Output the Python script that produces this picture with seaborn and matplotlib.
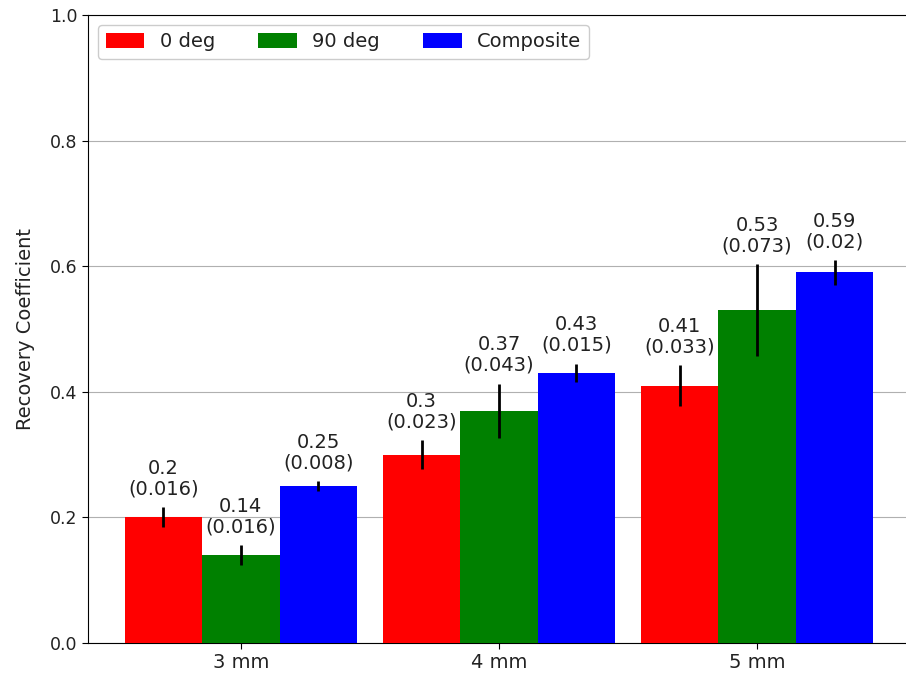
import matplotlib
matplotlib.use("Agg")
import matplotlib.pyplot as plt
import seaborn as sns
import pandas as pd
import numpy as np

categories = ["3 mm", "4 mm", "5 mm"]
series = ["0 deg", "90 deg", "Composite"]
vals_0 = [0.2, 0.3, 0.41]
err_0 = [0.016, 0.023, 0.033]
vals_90 = [0.14, 0.37, 0.53]
err_90 = [0.016, 0.043, 0.073]
vals_comp = [0.25, 0.43, 0.59]
err_comp = [0.008, 0.015, 0.02]
colors = ["red", "green", "blue"]

vals = [vals_0, vals_90, vals_comp]
errs = [err_0, err_90, err_comp]
rows = []
for s, v, e in zip(series, vals, errs):
    for c, vv, ee in zip(categories, v, e):
        rows.append({"Size": c, "Series": s, "RC": vv, "err": ee})
df = pd.DataFrame(rows)

plt.rcParams["font.family"] = ["DejaVu Sans"]
fig = plt.figure(figsize=(9.06, 6.77), dpi=100)
ax = fig.add_axes([88/906, 1-643/677, (910-88)/906, (643-15)/677])
sns.barplot(data=df, x="Size", y="RC", hue="Series", palette=colors,
            width=0.9, errorbar=None, ax=ax, saturation=1, zorder=3,
            linewidth=0, legend=True)

# error bars and labels
for ci, s in enumerate(series):
    cont = ax.containers[ci]
    sub = df[df["Series"] == s]
    for bar, (_, r) in zip(cont.patches, sub.iterrows()):
        x = bar.get_x() + bar.get_width() / 2
        ax.errorbar(x, r["RC"], yerr=r["err"], color="black", lw=2,
                    capsize=0, zorder=4)
        ax.text(x, r["RC"] + r["err"] + 0.014,
                f"{r['RC']:g}\n({r['err']:g})", ha="center", va="bottom",
                fontsize=14, linespacing=1.1, color="#222222")

ax.set_ylim(0, 1.0)
ax.set_xlim(-0.592, 2.592)
ax.set_yticks([0, 0.2, 0.4, 0.6, 0.8, 1.0])
ax.set_yticklabels(["0.0", "0.2", "0.4", "0.6", "0.8", "1.0"])
ax.yaxis.grid(True, color="#b0b0b0", lw=0.8, zorder=0)
ax.xaxis.grid(False)
ax.set_axisbelow(True)
ax.set_xlabel("")
ax.set_ylabel("Recovery Coefficient", fontsize=14, color="#222222", labelpad=11)
ax.tick_params(axis="y", labelsize=12.5, length=4, color="black",
               labelcolor="#222222", left=True)
ax.tick_params(axis="x", labelsize=14, length=4, color="black",
               labelcolor="#222222", bottom=True)
for sp in ax.spines.values():
    sp.set_color("black")
    sp.set_linewidth(0.8)
ax.legend(loc="upper left", ncol=3, fontsize=14, title=None, framealpha=1,
          handlelength=2, handleheight=0.8, columnspacing=2.2,
          labelcolor="#222222")
fig.savefig("out.png", dpi=100)
